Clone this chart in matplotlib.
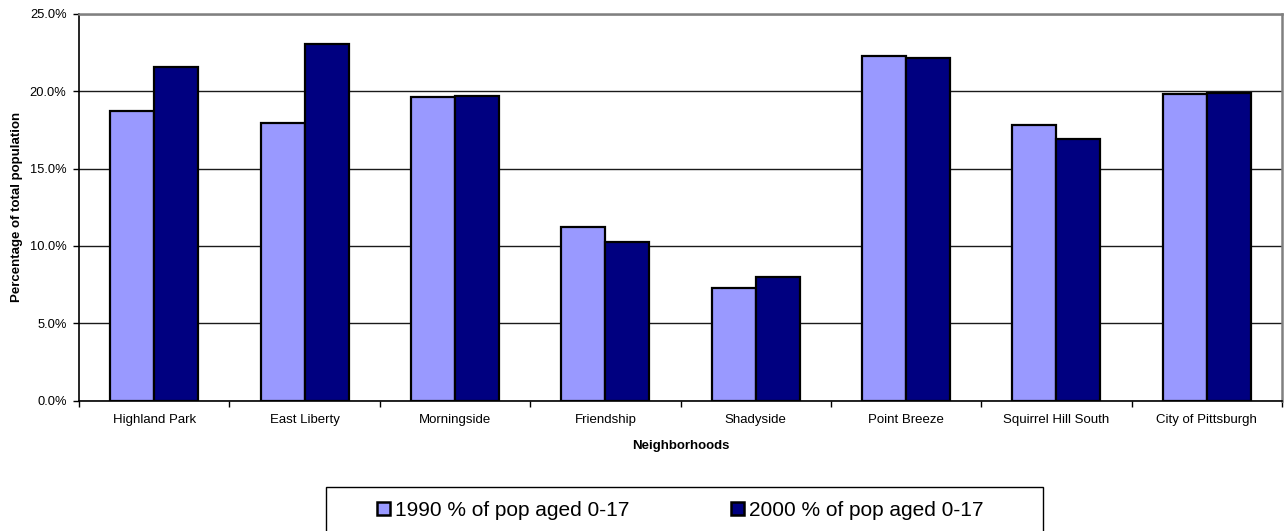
import matplotlib
matplotlib.use("Agg")
import matplotlib.pyplot as plt
import numpy as np
from matplotlib.patches import Patch, Rectangle
from matplotlib.ticker import FuncFormatter, MultipleLocator, FixedLocator

plt.rcParams['font.family'] = ['Liberation Sans', 'DejaVu Sans']

categories = ["Highland Park", "East Liberty", "Morningside", "Friendship",
              "Shadyside", "Point Breeze", "Squirrel Hill South", "City of Pittsburgh"]
pct_1990 = [18.75, 17.93, 19.6, 11.2, 7.3, 22.28, 17.8, 19.82]
pct_2000 = [21.6, 23.06, 19.7, 10.25, 7.97, 22.17, 16.93, 19.89]
series_labels = ["1990 % of pop aged 0-17", "2000 % of pop aged 0-17"]
colors = ["#9999FF", "#000080"]

W, H = 1286, 531
fig = plt.figure(figsize=(W / 100, H / 100), dpi=100)
L, R, T, B = 79, 1282, 14, 400.5
ax = fig.add_axes([L / W, 1 - B / H, (R - L) / W, (B - T) / H])

x = np.arange(len(categories))
bw = 0.293
ax.bar(x - bw / 2, pct_1990, bw, color=colors[0], edgecolor="black", linewidth=1.6, zorder=3)
ax.bar(x + bw / 2, pct_2000, bw, color=colors[1], edgecolor="black", linewidth=1.6, zorder=3)

ax.set_xlim(-0.5, len(categories) - 0.5)
ax.set_ylim(0, 25)
ax.yaxis.set_major_locator(MultipleLocator(5))
ax.yaxis.set_major_formatter(FuncFormatter(lambda v, p: f"{v:.1f}%"))
ax.grid(axis="y", color="#1a1a1a", linewidth=1.0, zorder=0)

ax.set_xticks(x)
ax.set_xticklabels(categories, fontsize=9.5)
ax.tick_params(axis="x", which="major", length=0, pad=9.5)
ax.xaxis.set_minor_locator(FixedLocator(np.arange(-0.5, len(categories), 1.0)))
ax.tick_params(axis="x", which="minor", length=4.5, width=1, direction="out")
ax.tick_params(axis="y", length=4, width=1, direction="out", labelsize=9.3, pad=5)

for s in ["top", "right"]:
    ax.spines[s].set_color("#808080")
    ax.spines[s].set_linewidth(1.8)
for s in ["left", "bottom"]:
    ax.spines[s].set_color("black")
    ax.spines[s].set_linewidth(1.2)

ax.set_ylabel("Percentage of total population", fontsize=9.5, fontweight="bold", labelpad=4.5)
ax.set_xlabel("Neighborhoods", fontsize=9.5, fontweight="bold", labelpad=10)

# legend box
fig.patches.append(Rectangle((326 / W, -0.05), (1043 - 326) / W, 1 - 487 / H + 0.05,
                             transform=fig.transFigure, facecolor="white",
                             edgecolor="black", linewidth=1.0))
handles = [Patch(facecolor=c, edgecolor="black", linewidth=1.8) for c in colors]
fig.legend(handles, series_labels, loc="center left", bbox_to_anchor=(377 / W, 1 - 510 / H),
           ncol=2, frameon=False, fontsize=15, handlelength=0.6, handleheight=0.6,
           handletextpad=0.25, columnspacing=4.9, borderpad=0, borderaxespad=0)

fig.savefig("out.png", dpi=100)
